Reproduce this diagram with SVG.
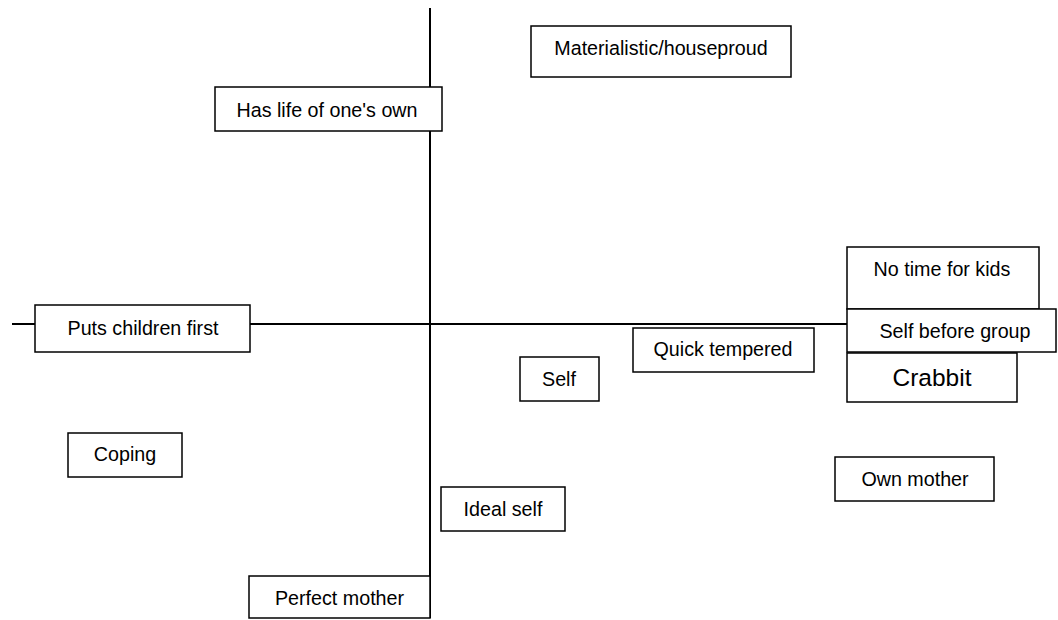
<svg xmlns="http://www.w3.org/2000/svg" width="1058" height="620" viewBox="0 0 1058 620">
<style>
.box{fill:#fff;stroke:#000;stroke-width:1.5}
.axis{stroke:#000;stroke-width:2;fill:none}
text{font-family:"Liberation Sans",Arial,sans-serif;font-size:19.7px;fill:#000;text-anchor:middle}
.big{font-size:24.5px}
</style>
<rect width="1058" height="620" fill="#fff"/>
<g id="connectors">
<line class="axis" x1="430" y1="8" x2="430" y2="618"/>
<line class="axis" x1="12" y1="324" x2="848" y2="324"/>
</g>
<g id="n-materialistic"><rect class="box" x="531" y="26" width="260" height="51"/><text x="661" y="55">Materialistic/houseproud</text></g>
<g id="n-haslife"><rect class="box" x="215" y="87" width="227" height="44"/><text x="327" y="117">Has life of one's own</text></g>
<g id="n-notime"><rect class="box" x="847" y="247" width="192" height="62"/><text x="942" y="276">No time for kids</text></g>
<g id="n-putschildren"><rect class="box" x="35" y="305" width="215" height="47"/><text x="143" y="335">Puts children first</text></g>
<g id="n-selfbefore"><rect class="box" x="847" y="309" width="209" height="43"/><text x="955" y="338">Self before group</text></g>
<g id="n-crabbit"><rect class="box" x="847" y="353" width="170" height="49"/><text class="big" x="932" y="386">Crabbit</text></g>
<g id="n-quick"><rect class="box" x="633" y="328" width="181" height="44"/><text x="723" y="356">Quick tempered</text></g>
<g id="n-self"><rect class="box" x="520" y="357" width="79" height="44"/><text x="559" y="386">Self</text></g>
<g id="n-coping"><rect class="box" x="68" y="433" width="114" height="44"/><text x="125" y="461">Coping</text></g>
<g id="n-ownmother"><rect class="box" x="835" y="457" width="159" height="44"/><text x="915" y="486">Own mother</text></g>
<g id="n-idealself"><rect class="box" x="441" y="487" width="124" height="44"/><text x="503" y="516">Ideal self</text></g>
<g id="n-perfectmother"><rect class="box" x="249" y="576" width="181" height="42"/><text x="339.5" y="605">Perfect mother</text></g>
</svg>
